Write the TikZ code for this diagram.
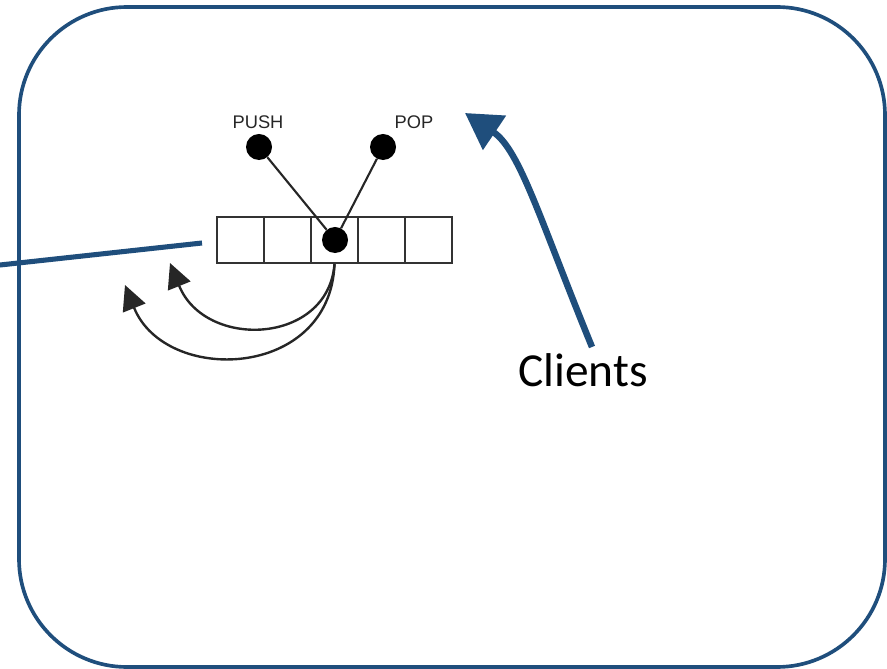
\documentclass[tikz,border=0pt]{standalone}
\usepackage{fontspec}
\usetikzlibrary{arrows.meta}
\newfontfamily\opfont{Liberation Sans}
\newfontfamily\clientfont{Carlito}
\definecolor{clientblue}{RGB}{31,78,124}
\begin{document}
\begin{tikzpicture}[x=0.025cm, y=-0.025cm,
		cell/.style={draw=black!80, line width=1.2pt, minimum width=1.175cm, minimum height=1.16cm, inner sep=0pt},
		dot/.style={circle, fill=black, minimum size=0.65cm, inner sep=0pt},
		oplabel/.style={font=\opfont\fontsize{13}{15}\selectfont, text=black!85, anchor=base, inner sep=0pt},
		wire/.style={line width=1.5pt, black!85},
		loopback/.style={line width=1.7pt, black!85, -{Triangle[length=0.62cm, width=0.6cm]}},
		blueline/.style={line width=3.6pt, clientblue}]
		\useasboundingbox (0,0) rectangle (887,669);
		\draw[clientblue, line width=2.6pt, rounded corners=2.7cm] (19,7) rectangle (885,667);
		% the queue cells
		\node[cell] (c1) at (240.5,240) {};
		\node[cell] (c2) at (287.5,240) {};
		\node[cell] (c3) at (334.5,240) {};
		\node[cell] (c4) at (381.5,240) {};
		\node[cell] (c5) at (428.5,240) {};
		\node[dot] (mid) at (335,240) {};
		\node[dot] (push) at (259,147) {};
		\node[dot] (pop) at (383,147) {};
		\node[oplabel] (pushlabel) at (258,129) {PUSH};
		\node[oplabel] (poplabel) at (414,129) {POP};
		\draw[wire] (push) -- (mid);
		\draw[wire] (pop) -- (mid);
		\draw[loopback] (c3.south) .. controls (328,345) and (205,350) .. (170,263);
		\draw[loopback] (c3.south) .. controls (330,380) and (165,385) .. (125,285);
		% clients
		\coordinate (feed) at (0,265);
		\coordinate (feedend) at (202,243);
		\draw[blueline] (feed) -- (feedend);
		\node[font=\clientfont\fontsize{33.7}{40}\selectfont, anchor=base, inner sep=0pt] (clients) at (583,386) {Clients};
		\coordinate (tail) at (592,347);
		\coordinate (tip) at (465,113);
		\draw[clientblue, line width=4.6pt, -{Triangle[length=0.89cm, width=1cm]}] (tail) .. controls (540,220) and (520,150) .. (tip);
	\end{tikzpicture}
\end{document}
